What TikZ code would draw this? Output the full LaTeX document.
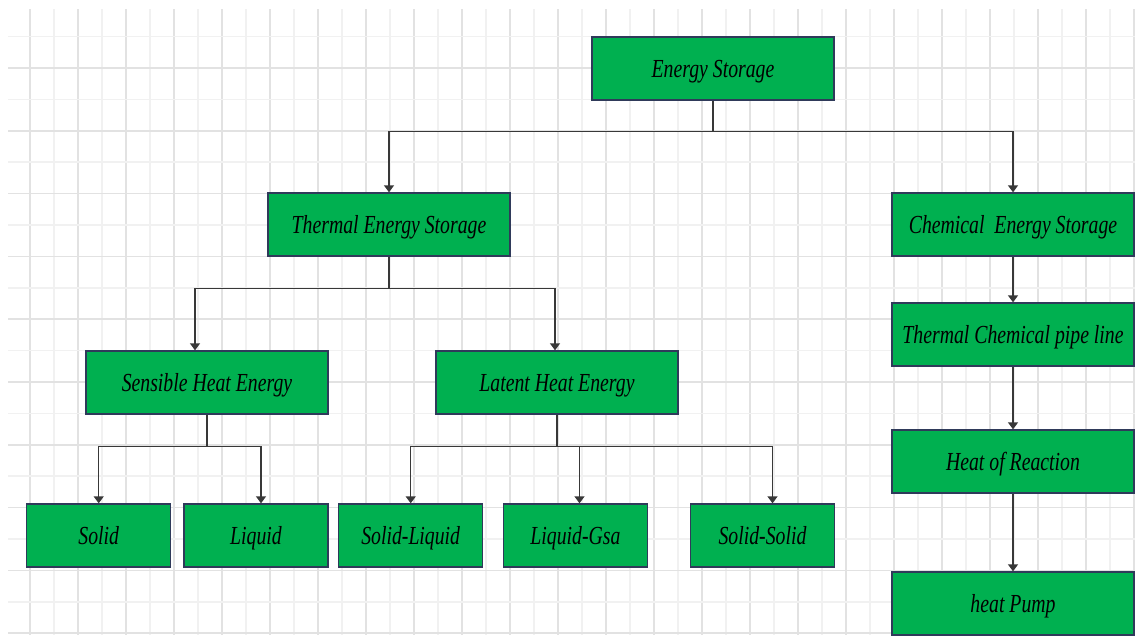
\documentclass[tikz,border=0pt]{standalone}
\usepackage{fontspec}
\newfontfamily\boxfont{Liberation Serif}[FakeStretch=0.76]
\usetikzlibrary{arrows.meta}
\definecolor{boxgreen}{HTML}{00B050}
\definecolor{boxline}{HTML}{2F3A5A}
\definecolor{gridminor}{HTML}{F1F1F1}
\definecolor{gridmajor}{HTML}{E2E2E2}
\definecolor{conncol}{HTML}{383838}
\begin{document}
\begin{tikzpicture}[x=1pt,y=-1pt,
  box/.style={draw=boxline, line width=1.4pt, fill=boxgreen, minimum width=242pt, minimum height=63pt, inner sep=0pt, text height=18pt, text depth=0pt, font=\boxfont\itshape\fontsize{26}{30}\selectfont, text=black},
  sbox/.style={box, minimum width=144pt},
  conn/.style={draw=conncol, line width=1.4pt, -{Triangle[width=10pt,length=7pt]}},
  gline/.style={line width=1.5pt}]
\useasboundingbox (0,0) rectangle (1135,635);
\fill[white] (0,0) rectangle (1135,635);
% grid
\foreach \k in {0,...,46}{
  \pgfmathtruncatemacro\m{mod(\k,2)}
  \ifnum\m=0 \def\gc{gridmajor}\else\def\gc{gridminor}\fi
  \draw[gline,\gc] ({30+24*\k},9) -- ({30+24*\k},635);
}
\foreach \k in {0,...,19}{
  \pgfmathtruncatemacro\m{mod(\k,2)}
  \ifnum\m=1 \def\gc{gridmajor}\else\def\gc{gridminor}\fi
  \draw[gline,\gc] (8,{36.6+31.4*\k}) -- (1135,{36.6+31.4*\k});
}
% nodes
\node[box] (ES) at (713,68.5) {Energy Storage};
\node[box] (TES) at (389,224.5) {Thermal Energy Storage};
\node[box] (CES) at (1013,224.5) {Chemical~~Energy Storage};
\node[box] (TCP) at (1013,334.5) {Thermal Chemical pipe line};
\node[box] (HR) at (1013,461.5) {Heat of Reaction};
\node[box] (HP) at (1013,603.5) {heat Pump};
\node[box] (SHE) at (207,382.5) {Sensible Heat Energy};
\node[box] (LHE) at (557,382.5) {Latent Heat Energy};
\node[sbox] (S) at (98.7,535.5) {Solid};
\node[sbox] (L) at (256,535.5) {Liquid};
\node[sbox] (SL) at (410.7,535.5) {Solid-Liquid};
\node[sbox] (LG) at (575.5,535.5) {Liquid-Gsa};
\node[sbox] (SS) at (762.5,535.5) {Solid-Solid};
% connectors
\draw[conn] (ES.south) -- ++(0,31) -| (TES.north);
\draw[conn] (ES.south) -- ++(0,31) -| (CES.north);
\draw[conn] (TES.south) -- ++(0,31.5) -| ([xshift=-12pt]SHE.north);
\draw[conn] (TES.south) -- ++(0,31.5) -| ([xshift=-2pt]LHE.north);
\draw[conn] (SHE.south) -- ++(0,32) -| (S.north);
\draw[conn] (SHE.south) -- ++(0,32) -| ([xshift=5pt]L.north);
\draw[conn] (LHE.south) -- ++(0,32) -| (SL.north);
\draw[conn] (LHE.south) -- ++(0,32) -| ([xshift=4pt]LG.north);
\draw[conn] (LHE.south) -- ++(0,32) -| ([xshift=10pt]SS.north);
\draw[conn] (CES) -- (TCP);
\draw[conn] (TCP) -- (HR);
\draw[conn] (HR) -- (HP);
\end{tikzpicture}
\end{document}
